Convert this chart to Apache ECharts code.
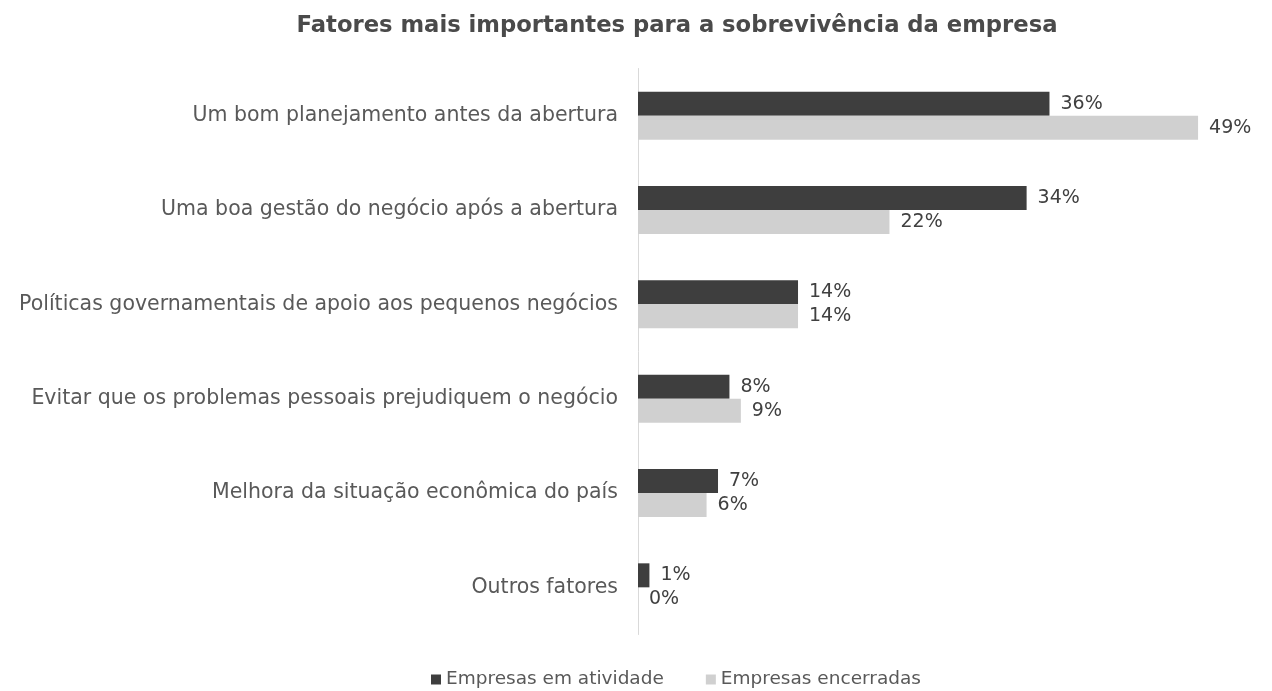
<!DOCTYPE html>
<html>
<head>
<meta charset="utf-8">
<script src="https://cdn.jsdelivr.net/npm/echarts@6/dist/echarts.min.js"></script>
<style>
  html, body { margin: 0; padding: 0; background: #ffffff; }
  #chart { width: 1272px; height: 691px; }
</style>
</head>
<body>
<div id="chart"></div>
<script>
// Factors named as most important for a company's survival (% of answers)
const categories = [
  'Um bom planejamento antes da abertura',
  'Uma boa gestão do negócio após a abertura',
  'Políticas governamentais de apoio aos pequenos negócios',
  'Evitar que os problemas pessoais prejudiquem o negócio',
  'Melhora da situação econômica do país',
  'Outros fatores'
];
const seriesNames = ['Empresas em atividade', 'Empresas encerradas'];
const ativas = [36, 34, 14, 8, 7, 1];
const encerradas = [49, 22, 14, 9, 6, 0];
const titleText = 'Fatores mais importantes para a sobrevivência da empresa';

const FONT = '"DejaVu Sans", "Liberation Sans", Arial, sans-serif';
const chart = echarts.init(document.getElementById('chart'));

const valueLabel = {
  show: true,
  position: 'right',
  distance: 11,
  formatter: '{c}%',
  color: '#404040',
  fontFamily: FONT,
  fontSize: 19
};

chart.setOption({
  animation: false,
  backgroundColor: '#ffffff',
  title: {
    text: titleText,
    left: 672,
    textAlign: 'center',
    top: 10,
    textStyle: { fontFamily: FONT, fontSize: 22.7, fontWeight: 'bold', color: '#4a4a4a' }
  },
  legend: {
    data: seriesNames,
    left: 426,
    top: 665,
    itemWidth: 10,
    itemHeight: 10,
    itemGap: 42,
    icon: 'rect',
    textStyle: { fontFamily: FONT, fontSize: 18.5, color: '#595959' }
  },
  grid: { left: 638, right: 62.5, top: 68.5, bottom: 56.5, containLabel: false },
  xAxis: {
    type: 'value',
    min: 0,
    max: 50,
    show: false
  },
  yAxis: {
    type: 'category',
    data: categories,
    inverse: true,
    axisLine: { show: true, lineStyle: { color: '#d9d9d9', width: 1 } },
    axisTick: { show: false },
    axisLabel: { margin: 20, fontFamily: FONT, fontSize: 20.5, color: '#595959' },
    splitLine: { show: false }
  },
  series: [
    {
      name: seriesNames[0],
      type: 'bar',
      data: ativas,
      barWidth: 24,
      barGap: '0%',
      itemStyle: { color: '#3e3e3e' },
      label: valueLabel
    },
    {
      name: seriesNames[1],
      type: 'bar',
      data: encerradas,
      barWidth: 24,
      barGap: '0%',
      itemStyle: { color: '#d0d0d0' },
      label: valueLabel
    }
  ]
});
</script>
</body>
</html>
